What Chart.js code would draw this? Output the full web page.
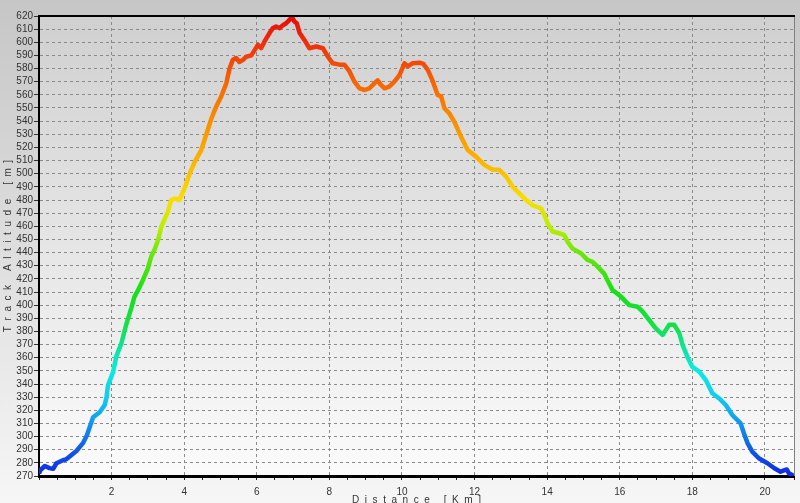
<!DOCTYPE html>
<html>
<head>
<meta charset="utf-8">
<title>Track Altitude</title>
<script src="https://cdn.jsdelivr.net/npm/chart.js@4/dist/chart.umd.min.js"></script>
<style>
  html, body { margin: 0; padding: 0; background: #e0e0e0; }
  #wrap { width: 800px; height: 503px; }
</style>
</head>
<body>
<div id="wrap"><canvas id="profile"></canvas></div>
<script>
// distance along the track (km) and altitude (m)
var distanceKm = [
    0.00, 0.02, 0.16, 0.29, 0.39, 0.48, 0.66, 0.75, 1.03, 1.21, 1.32, 1.40, 1.49, 1.67, 1.81, 1.86, 1.90,
    2.04, 2.13, 2.27, 2.41, 2.54, 2.63, 2.73, 2.86, 3.00, 3.09, 3.18, 3.28, 3.37, 3.55, 3.64, 3.74, 3.87,
    4.01, 4.15, 4.29, 4.47, 4.75, 4.88, 5.02, 5.16, 5.25, 5.34, 5.43, 5.52, 5.62, 5.71, 5.85, 5.94,
    6.03, 6.12, 6.21, 6.35, 6.44, 6.53, 6.63, 6.72, 6.81, 6.90, 6.97, 7.04, 7.10, 7.18, 7.31, 7.45,
    7.64, 7.82, 7.96, 8.09, 8.28, 8.41, 8.55, 8.69, 8.83, 8.97, 9.10, 9.24, 9.33, 9.42, 9.52, 9.65,
    9.79, 9.93, 10.07, 10.16, 10.29, 10.48, 10.59, 10.71, 10.84, 10.98, 11.08, 11.17, 11.30, 11.44,
    11.63, 11.81, 12.04, 12.27, 12.50, 12.68, 12.87, 13.05, 13.23, 13.42, 13.60, 13.83, 13.92, 14.01,
    14.15, 14.33, 14.47, 14.56, 14.70, 14.93, 15.11, 15.25, 15.39, 15.57, 15.66, 15.80, 16.03, 16.26,
    16.49, 16.63, 16.81, 16.99, 17.18, 17.36, 17.50, 17.64, 17.73, 17.86, 18.00, 18.19, 18.37, 18.55,
    18.74, 18.92, 19.10, 19.33, 19.42, 19.52, 19.65, 19.83, 20.07, 20.26, 20.43, 20.60, 20.66, 20.74
];
var altitudeM = [
    273, 274, 277.6, 276, 275.5, 279.7, 282, 282.7, 289, 295, 301, 307.5, 314.7, 318.5, 324, 330, 339,
    349, 361, 371, 386, 397.6, 406.5, 411.5, 419, 428, 437, 442, 449.6, 459.7, 471, 480, 481, 480,
    489, 500, 509, 518, 542, 551, 558.7, 568.8, 580, 586.6, 588, 585, 586.6, 589, 590, 594,
    598, 595.5, 600.5, 607, 610.7, 612, 610.7, 613, 614.5, 617, 619, 615.7, 614.5, 607, 601.8, 595.5,
    596.8, 595.5, 589, 584, 583, 583, 578, 570, 565, 563.7, 565, 568.8, 571, 567.6, 565, 566.3,
    570, 575, 584, 581.6, 584, 584.5, 583.5, 579, 571, 560, 558.7, 549.8, 546, 539.6,
    528, 518, 513, 506.7, 503, 503, 497.8, 490, 485, 480, 476, 473.7, 468.6, 462.3,
    456, 454.7, 453.4, 448.3, 443, 439.5, 434.4, 433, 429.3, 424, 419, 411.5, 406.5, 400,
    398.8, 395, 388.7, 382.4, 377.3, 385, 385, 378.6, 369.7, 360.8, 353, 349.4, 343, 333,
    329, 324, 316.4, 310, 302.5, 295, 288.5, 283.5, 279.7, 275.9, 273.3, 275, 272, 271
];
var altMin = 270;
var altMax = 620;

// colour of the track by altitude (blue low -> red high)
var altitudeColours = [
    [270, 'rgb(16,40,225)'], [290, 'rgb(16,90,232)'], [310, 'rgb(16,150,238)'],
    [330, 'rgb(16,205,240)'], [350, 'rgb(10,235,225)'], [365, 'rgb(10,230,165)'],
    [385, 'rgb(20,225,70)'], [410, 'rgb(20,225,20)'], [440, 'rgb(110,230,10)'],
    [460, 'rgb(190,238,0)'], [480, 'rgb(248,222,0)'], [510, 'rgb(250,180,0)'],
    [545, 'rgb(250,135,0)'], [570, 'rgb(245,100,5)'], [590, 'rgb(240,65,10)'],
    [605, 'rgb(238,35,10)'], [620, 'rgb(230,10,10)']
];

function trackColour(context) {
    var chart = context.chart;
    if (!chart.chartArea) return 'rgb(16,40,225)';
    var y = chart.scales.y;
    var g = chart.ctx.createLinearGradient(0, y.getPixelForValue(altMin), 0, y.getPixelForValue(altMax));
    altitudeColours.forEach(function (s) {
        g.addColorStop((s[0] - altMin) / (altMax - altMin), s[1]);
    });
    return g;
}

var frame = {
    id: 'frame',
    beforeDraw: function (chart) {
        var ctx = chart.ctx, a = chart.chartArea;
        ctx.save();
        var bg = ctx.createLinearGradient(0, 0, 0, chart.height);
        bg.addColorStop(0, '#c6c6c6');
        bg.addColorStop(1, '#f6f6f6');
        ctx.fillStyle = bg;
        ctx.fillRect(0, 0, chart.width, chart.height);
        var pg = ctx.createLinearGradient(0, a.top, 0, a.bottom);
        pg.addColorStop(0, '#d0d0d0');
        pg.addColorStop(1, '#fbfbfb');
        ctx.fillStyle = pg;
        ctx.fillRect(a.left, a.top, a.right - a.left, a.bottom - a.top);
        ctx.restore();
    },
    afterDraw: function (chart) {
        var ctx = chart.ctx, a = chart.chartArea;
        ctx.save();
        ctx.strokeStyle = '#808080';
        ctx.lineWidth = 1;
        ctx.beginPath();
        ctx.moveTo(a.right + 0.5, a.top);
        ctx.lineTo(a.right + 0.5, a.bottom);
        ctx.stroke();
        ctx.strokeStyle = '#000';
        ctx.lineWidth = 2;
        ctx.beginPath();
        ctx.moveTo(a.left, a.top);
        ctx.lineTo(a.right + 1, a.top);
        ctx.stroke();
        ctx.restore();
    }
};

var ctx = document.getElementById('profile').getContext('2d');
var chart = new Chart(ctx, {
    type: 'line',
    data: {
        datasets: [{
            label: 'Track Altitude',
            data: distanceKm.map(function (d, i) { return { x: d, y: altitudeM[i] }; }),
            borderColor: trackColour,
            borderWidth: 4.5,
            borderCapStyle: 'round',
            borderJoinStyle: 'round',
            pointRadius: 0,
            tension: 0,
            fill: false
        }]
    },
    options: {
        responsive: true,
        maintainAspectRatio: false,
        animation: false,
        layout: { padding: { top: 16, right: 5, left: 0, bottom: 0 } },
        plugins: {
            legend: { display: false },
            tooltip: { enabled: false }
        },
        scales: {
            x: {
                type: 'linear',
                min: 0,
                max: 20.8,
                afterFit: function (scale) { scale.height = 27; },
                ticks: {
                    stepSize: 0.5,
                    autoSkip: false,
                    maxRotation: 0,
                    padding: 6,
                    color: '#333',
                    font: { family: 'Liberation Sans', size: 10 },
                    callback: function (v) {
                        return (v > 0 && Math.abs(v % 2) < 1e-9) ? String(v) : '';
                    }
                },
                grid: {
                    color: function (c) {
                        var v = c.tick ? c.tick.value : 0;
                        return (v > 0 && v < 20.8 && Math.abs(v % 2) < 1e-9) ? '#8a8a8a' : 'rgba(0,0,0,0)';
                    },
                    tickColor: '#222',
                    tickLength: 4,
                    lineWidth: 1
                },
                border: { display: true, color: '#000', width: 3, dash: [3, 3] },
                title: {
                    display: true,
                    text: 'D  i  s  t  a  n  c  e     [  K  m  ]',
                    color: '#333',
                    font: { family: 'Liberation Sans', size: 10 },
                    padding: { top: 0, bottom: -3 }
                }
            },
            y: {
                min: altMin,
                max: altMax,
                afterFit: function (scale) { scale.width = 39; },
                ticks: {
                    stepSize: 10,
                    autoSkip: false,
                    padding: 1,
                    color: '#333',
                    font: { family: 'Liberation Sans', size: 10 }
                },
                grid: {
                    color: '#8a8a8a',
                    tickColor: '#333',
                    tickLength: 5,
                    lineWidth: 1
                },
                border: { display: true, color: '#000', width: 2, dash: [3, 3] },
                title: {
                    display: true,
                    text: 'T  r  a  c  k     A  l  t  i  t  u  d  e     [  m  ]',
                    color: '#333',
                    font: { family: 'Liberation Sans', size: 10 },
                    padding: { top: 2, bottom: 0 }
                }
            }
        }
    },
    plugins: [frame]
});
</script>
</body>
</html>
